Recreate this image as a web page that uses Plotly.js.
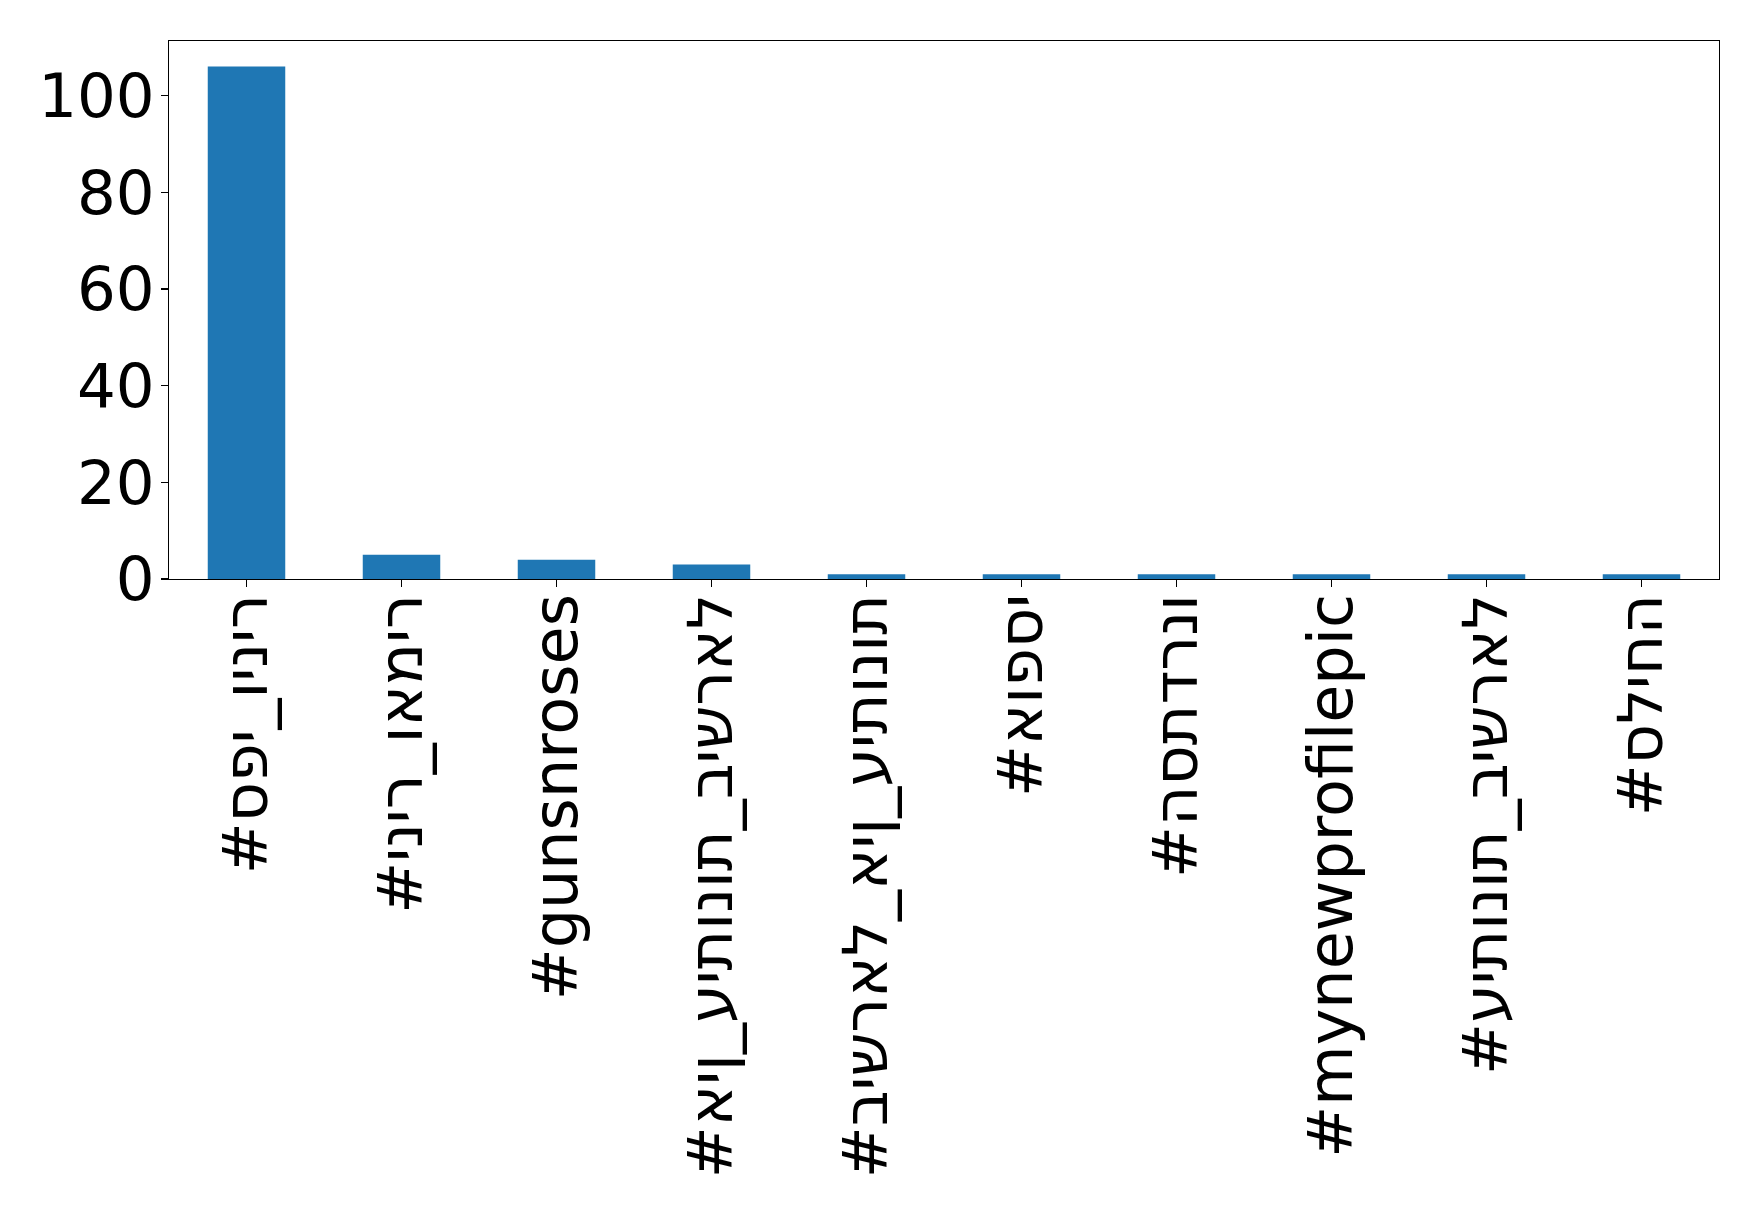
<!DOCTYPE html>
<html>
<head>
<meta charset="utf-8">
<script src="https://cdn.plot.ly/plotly-3.0.1.min.js"></script>
<style>
  html, body { margin: 0; padding: 0; background: #ffffff; }
  #chart { width: 1758px; height: 1217px; }
</style>
</head>
<body>
<div id="chart"></div>
<script>
// Hashtags (logical order) and their counts
const hashtags = [
  "#ספי_ויניר",
  "#יניר_ואמיר",
  "#gunsnroses",
  "#אין_עיתונות_בישראל",
  "#בישראל_אין_עיתונות",
  "#אופסי",
  "#הסתדרנו",
  "#mynewprofilepic",
  "#עיתונות_בישראל",
  "#סליחה"
];
const counts = [106, 5, 4, 3, 1, 1, 1, 1, 1, 1];
const yTicks = [0, 20, 40, 60, 80, 100];

// The reference draws the glyphs left-to-right in logical order (no bidi reordering);
// force that with a left-to-right override.
const tickText = hashtags.map(s => "\u202D" + s + "\u202C");

const trace = {
  type: "bar",
  x: hashtags,
  y: counts,
  width: 0.5,
  marker: { color: "#1f77b4", line: { width: 0 } },
  hoverinfo: "x+y"
};

const layout = {
  width: 1758,
  height: 1217,
  margin: { l: 169, r: 39, t: 41, b: 638, pad: 0 },
  paper_bgcolor: "#ffffff",
  plot_bgcolor: "#ffffff",
  showlegend: false,
  font: { family: "DejaVu Sans, sans-serif", color: "#000000", size: 60 },
  xaxis: {
    type: "category",
    range: [-0.5, 9.5],
    tickmode: "array",
    tickvals: hashtags,
    ticktext: tickText,
    tickangle: -90,
    tickfont: { family: "DejaVu Sans", size: 62, color: "#000000" },
    ticks: "outside",
    ticklen: 7,
    tickwidth: 1.2,
    tickcolor: "#000000",
    ticklabelstandoff: -18,
    showline: true,
    linecolor: "#000000",
    linewidth: 1.2,
    mirror: true,
    showgrid: false,
    zeroline: false
  },
  yaxis: {
    range: [0, 111.3],
    tickmode: "array",
    tickvals: yTicks,
    ticktext: yTicks.map(String),
    tickfont: { family: "DejaVu Sans", size: 61, color: "#000000" },
    ticks: "outside",
    ticklen: 7,
    tickwidth: 1.2,
    tickcolor: "#000000",
    ticklabelstandoff: -6,
    showline: true,
    linecolor: "#000000",
    linewidth: 1.2,
    mirror: true,
    showgrid: false,
    zeroline: false
  }
};

Plotly.newPlot("chart", [trace], layout, { displayModeBar: false, staticPlot: true });
</script>
</body>
</html>
